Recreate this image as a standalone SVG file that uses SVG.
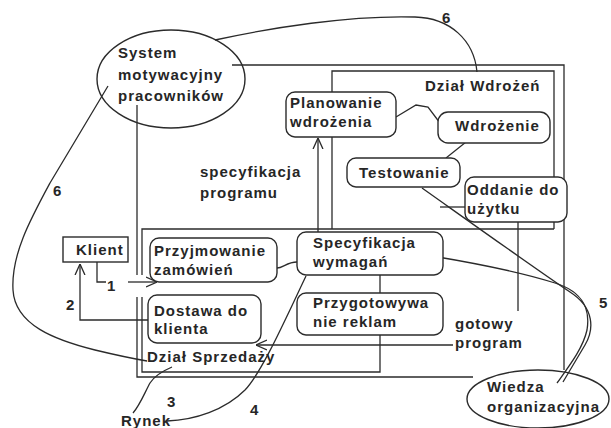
<svg xmlns="http://www.w3.org/2000/svg" width="611" height="428" viewBox="0 0 611 428">
  <style>
    .ln{fill:none;stroke:#2b2b2b;stroke-width:1.3}
    .box{fill:#fff;stroke:#2b2b2b;stroke-width:1.4}
    .ov{fill:none;stroke:#2b2b2b;stroke-width:1.4}
    text{font-family:"Liberation Sans",Arial,sans-serif;font-size:15px;font-weight:700;fill:#262626;letter-spacing:1px}
    .num{letter-spacing:0}
  </style>
  <defs>
    <marker id="vhead" viewBox="0 0 10 10" markerWidth="11" markerHeight="12" refX="10" refY="5" orient="auto" markerUnits="userSpaceOnUse">
      <path d="M0,0.5 L10,5 L0,9.5" fill="none" stroke="#2b2b2b" stroke-width="1.2"/>
    </marker>
  </defs>

  <rect width="611" height="428" fill="#fff"/>

  <!-- department frames and company boundary -->
  <g id="frames" class="ln">
    <path d="M332,229 V71 H554 V229"/>
    <path d="M142,275 V229 H554"/>
    <path d="M142,297 V372 H380 V335"/>
    <path d="M232,65 H564 V370"/>
    <path d="M137,105 V275"/>
    <path d="M137,297 V377 H473"/>
  </g>

  <g id="connectors" class="ln">
    <!-- 6: motivation system to implementation dept -->
    <path d="M215,40 C270,28 350,15 415,17 C450,18 474,40 477,72"/>
    <!-- 6: motivation system to sales dept -->
    <path d="M108,86 L50,183 C30,220 11,255 13,290 C15,325 55,340 95,350 C120,356 135,359 147,361"/>
    <!-- implementation flow -->
    <path d="M396,117 L416,105 L428,107 L440,123"/>
    <path d="M466,142 L446,158"/>
    <path d="M440,207 H465"/>
    <path d="M318,232 V138" marker-end="url(#vhead)"/>
    <!-- sales flow -->
    <path d="M277,268 C283,268 287,262 297,262"/>
    <path d="M380,275 V293"/>
    <path d="M97,262 V282 H106"/>
    <path d="M128,282 H157" marker-end="url(#vhead)"/>
    <path d="M155,320 H80 V264" marker-end="url(#vhead)"/>
    <!-- finished program back to delivery -->
    <path d="M518,222 V311"/>
    <path d="M453,345 H256" marker-end="url(#vhead)"/>
    <!-- 5: organisational knowledge -->
    <path d="M422,188 C470,222 540,272 570,292 C595,308 594,330 585,345 L563,382"/>
    <path d="M432,256 C480,264 530,275 555,283 C585,292 590,312 587,330 C583,348 570,365 557,383"/>
    <!-- 3 and 4: market -->
    <path d="M133,413 C140,405 145,392 150,383 C155,375 165,370 172,367"/>
    <path d="M167,421 C195,420 225,410 245,390 C262,372 285,320 306,276"/>
  </g>

  <g id="system-motywacyjny">
    <ellipse class="ov" cx="171" cy="79" rx="74" ry="49"/>
    <text x="118" y="58">System</text>
    <text x="118" y="80">motywacyjny</text>
    <text x="118" y="101">pracowników</text>
  </g>

  <g id="dzial-wdrozen">
    <text x="425" y="91">Dział Wdrożeń</text>
  </g>

  <g id="planowanie">
    <rect class="box" x="286" y="92" width="110" height="45" rx="9"/>
    <text x="290" y="108">Planowanie</text>
    <text x="290" y="127">wdrożenia</text>
  </g>

  <g id="wdrozenie">
    <rect class="box" x="438" y="112" width="112" height="31" rx="10"/>
    <text x="455" y="131">Wdrożenie</text>
  </g>

  <g id="testowanie">
    <rect class="box" x="347" y="158" width="113" height="29" rx="9"/>
    <text x="359" y="178">Testowanie</text>
  </g>

  <g id="oddanie">
    <rect class="box" x="465" y="177" width="102" height="45" rx="9"/>
    <text x="467" y="195">Oddanie do</text>
    <text x="467" y="214">użytku</text>
  </g>

  <g id="specyfikacja-programu">
    <text x="200" y="177">specyfikacja</text>
    <text x="200" y="198">programu</text>
  </g>

  <g id="klient">
    <rect x="63" y="237" width="65" height="25" fill="#fff" stroke="#2b2b2b" stroke-width="1.4"/>
    <text x="76" y="255">Klient</text>
  </g>

  <g id="przyjmowanie">
    <rect class="box" x="150" y="238" width="127" height="44" rx="9"/>
    <text x="154" y="256">Przyjmowanie</text>
    <text x="154" y="275">zamówień</text>
  </g>

  <g id="specyfikacja-wymagan">
    <rect class="box" x="297" y="232" width="146" height="43" rx="9"/>
    <text x="313" y="248">Specyfikacja</text>
    <text x="313" y="267">wymagań</text>
  </g>

  <g id="dostawa">
    <rect class="box" x="148" y="295" width="113" height="48" rx="9"/>
    <text x="154" y="316">Dostawa do</text>
    <text x="154" y="334">klienta</text>
  </g>

  <g id="reklamy">
    <rect class="box" x="297" y="293" width="146" height="42" rx="9"/>
    <text x="313" y="308">Przygotowywa</text>
    <text x="313" y="327">nie reklam</text>
  </g>

  <g id="gotowy-program">
    <text x="455" y="329">gotowy</text>
    <text x="455" y="348">program</text>
  </g>

  <g id="dzial-sprzedazy">
    <text x="147" y="362">Dział Sprzedaży</text>
  </g>

  <g id="wiedza">
    <ellipse class="ov" cx="538" cy="399" rx="71" ry="29"/>
    <text x="487" y="392">Wiedza</text>
    <text x="487" y="412">organizacyjna</text>
  </g>

  <g id="rynek">
    <text x="121" y="426">Rynek</text>
  </g>

  <g id="labels">
    <text class="num" x="442" y="23">6</text>
    <text class="num" x="53" y="196">6</text>
    <text class="num" x="107" y="291">1</text>
    <text class="num" x="66" y="310">2</text>
    <text class="num" x="167" y="407">3</text>
    <text class="num" x="250" y="415">4</text>
    <text class="num" x="599" y="308">5</text>
  </g>
</svg>
